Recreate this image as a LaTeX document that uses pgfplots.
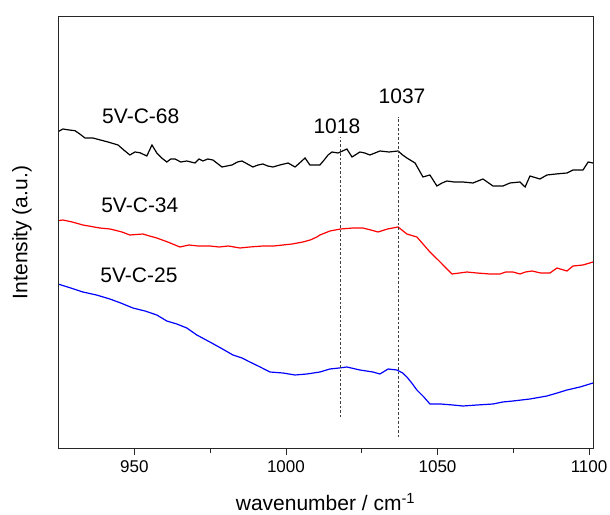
\documentclass[border=0pt]{standalone}
\usepackage{pgfplots}
\pgfplotsset{compat=1.18}
\usepackage{fontspec}
\setmainfont{Liberation Sans}
\newcommand{\lab}{\fontsize{21bp}{25bp}\selectfont}
\newcommand{\tlab}{\fontsize{17bp}{20bp}\selectfont}
\begin{document}
\begin{tikzpicture}
\useasboundingbox (-58bp,-67bp) rectangle (552bp,448bp);
\begin{axis}[
  scale only axis, width=535bp, height=431bp,
  xmin=924.8, xmax=1101.3, ymin=0, ymax=431,
  axis line style={line width=1bp, black!85},
  xtick={950,1000,1050,1100}, minor x tick num=1,
  xtick pos=bottom, ytick=\empty,
  tick align=outside,
  major tick length=7bp, minor tick length=5bp,
  every tick/.style={black!85, line width=0.8bp},
  /pgf/number format/assume math mode=true,
  /pgf/number format/1000 sep={},
  xticklabel style={font=\tlab, yshift=-2bp},
  xlabel={wavenumber / cm\textsuperscript{-1}},
  ylabel={Intensity (a.u.)},
  every axis x label/.style={at={(axis description cs:0.5,-0.146)}, anchor=base, font=\lab},
  every axis y label/.style={at={(axis description cs:-0.0673,0.5)}, rotate=90, anchor=center, font=\lab},
  clip=true,
]
% black 5V-C-68
\addplot[black, line width=1.2bp] coordinates {
(924.8,316.3) (926.4,319) (928.5,318) (930.4,317.3) (932,314) (933.7,310) (936.3,310) (938.8,308) (941.3,306) (944.6,303) (946.5,298) (948.5,293) (950.2,296) (951.8,295.3) (954.1,292) (955.8,303) (957.4,295) (959,290) (960.7,286) (962,289) (963.4,289) (965.3,286) (967.3,287) (970.0,285) (971.3,289) (972.6,287) (974.2,289) (975.9,288) (978.9,281) (980.5,282) (982.2,283) (984,286) (985.5,287) (989.1,281) (990.8,283) (992.4,284) (994,282) (995.7,281) (998,283) (1000.7,285) (1003.0,281) (1004.5,285) (1006.3,290) (1007.9,283) (1011.2,283) (1012.6,288) (1013.9,293) (1015.2,296) (1017.2,295) (1020.1,299) (1021.8,291) (1024.4,296) (1026,295) (1027.7,293) (1031.0,297) (1034,296) (1037.0,297) (1038.5,293) (1039.9,290) (1042.6,285) (1045.2,271) (1047.5,273) (1049.8,262) (1051.5,265) (1053.1,267) (1055.5,266) (1058.4,266) (1061.7,265) (1065.0,269) (1068.3,262) (1071.6,262) (1073.9,265) (1077.2,266) (1078.9,261) (1080.5,272) (1083.8,269) (1086.1,273) (1089,274) (1092.7,275) (1094.7,278) (1098.0,278) (1099.7,286) (1101.3,285)
};
% red 5V-C-34
\addplot[red, line width=1.2bp] coordinates {
(924.8,227.3) (926.4,228) (929.5,226) (933.0,223) (938.6,220) (942,219) (945.9,216) (948.5,213) (952.8,214) (955,212) (957.4,210) (961,206) (965.0,201) (968,203) (971,202) (974.9,202) (978,201) (981,202) (984.8,200) (988,201) (992.4,202) (996,202) (999.0,203) (1002,204) (1005.6,206) (1008,208) (1010.2,211) (1011.2,213) (1014.5,217) (1018,219) (1022.1,220) (1025.4,220) (1028,218) (1030.4,216) (1033.5,219) (1037.0,221) (1039.9,214) (1043.2,211) (1045.5,203) (1047.5,196) (1050.2,188) (1052.5,181) (1054.8,174) (1059.7,176) (1063,175) (1067.3,174) (1070.6,174) (1072.5,176) (1074.9,176) (1077.2,174) (1079,176) (1081.2,177) (1084,175) (1087.1,175) (1089.4,180) (1092.7,177) (1094.7,182) (1098.0,183) (1101.3,186)
};
% blue 5V-C-25
\addplot[blue, line width=1.2bp] coordinates {
(924.8,164) (929,160) (933.0,156) (937.5,153) (941.9,149) (945.5,145) (949.5,140) (953.5,137) (957.4,133) (960.7,127) (964,124) (967.3,120) (970.6,113) (974.9,106) (978.5,100) (982.5,93) (985.5,90) (988.1,86) (991.5,81) (994.7,76) (999.0,75) (1003.0,73) (1006.9,74) (1011.2,76) (1014.5,79) (1017.5,80) (1020.1,81) (1024.4,78) (1028.7,76) (1031.0,74) (1033.7,79) (1036.6,78) (1038.5,75) (1039.9,71) (1041.5,65) (1043.2,58) (1045.5,51) (1047.5,44) (1051,44) (1055.1,43) (1058.4,42) (1063,43) (1068.3,44) (1071.5,46) (1074.9,47) (1080.5,49) (1086.1,52) (1089.5,55) (1092.7,58) (1097,61) (1101.3,65)
};
% dashed markers
\addplot[black!75, line width=0.6bp, dash pattern=on 2.5bp off 2bp] coordinates {(1018,31) (1018,311)};
\addplot[black!75, line width=0.6bp, dash pattern=on 2.5bp off 2bp] coordinates {(1037,11) (1037,331)};
\node[font=\lab] at (axis cs:952.1,332) {5V-C-68};
\node[font=\lab] at (axis cs:951.8,243) {5V-C-34};
\node[font=\lab] at (axis cs:951.5,173) {5V-C-25};
\node[font=\lab] at (axis cs:1016.8,322) {1018};
\node[font=\lab] at (axis cs:1038.3,352) {1037};
\end{axis}
\draw[line width=1bp, black!85] (0,0) rectangle (535bp,431bp);
\end{tikzpicture}
\end{document}
